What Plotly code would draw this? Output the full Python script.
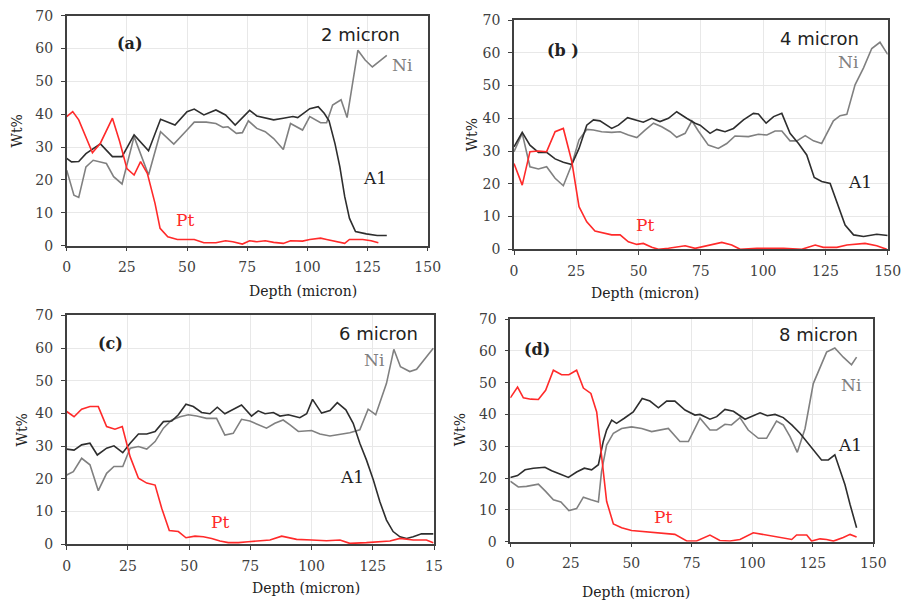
import plotly.graph_objects as go

# ---------------- data ----------------
# Panel (a) 2 micron
a_al_x = [0, 2, 5, 8, 14, 19, 23, 28, 34, 39, 45, 50, 53, 57, 62, 66, 70, 76, 79, 86, 90, 94, 96, 101, 104.5, 107, 109, 111.5, 113.5, 115.5, 117.5, 120, 124.5, 129, 133]
a_al_y = [26.6, 25.5, 25.6, 28, 31, 27.1, 27.1, 33.7, 28.9, 38.5, 36.7, 40.8, 41.6, 39.8, 41.3, 39.8, 36.7, 41.2, 39.5, 38.3, 38.8, 39.3, 39, 41.7, 42.3, 40.3, 38, 31, 24, 15, 8.3, 4.3, 3.6, 3.1, 3.1]
a_ni_x = [0, 3, 5, 8, 11, 16.5, 19.5, 23, 28, 34, 39, 44.5, 50, 53, 58, 62, 65, 67, 70.5, 73, 75.5, 79, 82.5, 86, 90, 93, 98, 101, 105.5, 108, 110.5, 114, 116.5, 118.5, 121, 124, 127, 133]
a_ni_y = [23, 15.4, 14.7, 24, 26, 25, 21, 18.8, 33.2, 21.5, 34.7, 30.9, 35.2, 37.6, 37.6, 37.2, 36, 36.2, 34.2, 34.4, 38, 35.7, 34.7, 32.6, 29.3, 37.2, 35.2, 39.3, 37.4, 37.4, 42.8, 44.4, 39, 48.3, 59.5, 56.5, 54.4, 57.9]
a_pt_x = [0, 2.5, 5, 7.5, 10.7, 14, 16.5, 19, 22, 25, 28, 30.7, 33.5, 36.7, 38.8, 42, 46, 53, 57, 62, 66, 69, 73, 76, 79, 82.5, 86, 90, 93, 98, 101, 105.5, 108, 112, 115.5, 117.5, 123, 126.5, 129.5]
a_pt_y = [39.3, 40.8, 38.3, 33.7, 28.3, 31.2, 35.2, 38.8, 31.7, 23.5, 21.5, 25.6, 22, 12.9, 5.3, 2.7, 1.9, 1.9, 0.9, 0.9, 1.5, 1.2, 0.5, 1.5, 1.2, 1.5, 1, 0.7, 1.5, 1.4, 1.9, 2.3, 1.9, 1.2, 0.7, 1.9, 1.9, 1.5, 0.9]

# Panel (b) 4 micron
b_al_x = [0, 3.3, 6.4, 9.8, 13.1, 16.5, 19.8, 23.2, 26.1, 29.2, 31.9, 34.5, 39.2, 41.9, 45.6, 49.3, 51.9, 55.3, 58.6, 62, 65.3, 69.3, 72.7, 74.7, 78.7, 81.4, 84.7, 88.1, 92.1, 96.1, 98.1, 101.2, 104.2, 107.5, 110.8, 114.2, 117.5, 120.5, 123.5, 126.9, 129.6, 132.9, 136.3, 140.3, 145.6, 150]
b_al_y = [31.3, 35.7, 31.8, 29.6, 29.6, 27.6, 26.6, 25.9, 30.8, 37.9, 39.5, 39.2, 36.9, 37.9, 40.2, 39.5, 38.8, 40, 39, 40, 42, 40, 38.5, 37.9, 35.4, 36.6, 35.9, 36.9, 39.5, 41.5, 41.3, 38.5, 40.5, 41.5, 35.4, 32.3, 28.8, 21.9, 20.7, 20.1, 14.5, 7.4, 4.4, 3.9, 4.6, 4.2]
b_ni_x = [0, 3.3, 6.4, 9.8, 13.1, 16.5, 19.8, 23.2, 26.1, 29.2, 31.9, 35.2, 39.2, 42.6, 45.9, 49.3, 52.6, 56, 59.3, 62.7, 65.3, 68.7, 71.4, 74, 78, 82, 85.4, 88.7, 94.1, 98.1, 101.5, 104.8, 107.5, 110.8, 113.5, 116.9, 120.2, 123.5, 128.2, 130.9, 133.6, 136.9, 140.3, 143.6, 146.9, 150]
b_ni_y = [29.8, 35.4, 25.2, 24.5, 25.2, 21.7, 19.4, 25.9, 33.4, 36.6, 36.4, 35.9, 35.7, 35.9, 34.9, 34.1, 36.4, 38.5, 37.4, 35.9, 34.2, 35.4, 39.2, 36.1, 31.8, 30.8, 32.3, 34.6, 34.4, 35.1, 34.9, 36.1, 36.1, 33.1, 33.1, 34.7, 33.1, 32.3, 39.2, 40.8, 41.2, 50.2, 55.4, 61.3, 63.2, 59.5]
b_pt_x = [0, 3.3, 6.4, 9.8, 13.1, 16.5, 19.8, 23.2, 26.1, 29.2, 32.5, 35.9, 39.2, 42.6, 45.9, 49.3, 51.9, 55.3, 58, 62, 65.3, 68.7, 72.7, 78.7, 83.4, 87.4, 90.8, 97.5, 108.2, 115.5, 120.9, 124.2, 129.6, 133.6, 140.9, 145.6, 149.6]
b_pt_y = [26.2, 19.6, 29.8, 30, 29.8, 35.9, 36.9, 26.8, 13, 8.4, 5.6, 4.9, 4.4, 4.4, 2.3, 1.5, 1.8, 0.6, 0, 0.3, 0.6, 1.1, 0.3, 1.3, 2.1, 1.3, 0, 0.3, 0.3, 0, 1.3, 0.6, 0.6, 1.3, 1.8, 1.1, 0]

# Panel (c) 6 micron
c_al_x = [0, 3, 6.1, 9.5, 12.5, 16.3, 19.3, 22.9, 25.9, 29.3, 32.7, 36.1, 39.5, 42.9, 45.6, 48.7, 51.7, 55.1, 58.5, 61.5, 64.6, 68, 71.4, 75.5, 78.2, 81, 84.4, 87.1, 90.5, 92.5, 95.2, 98, 100.4, 104.1, 107.5, 110.5, 114, 117, 119.7, 122.4, 125.2, 127.9, 130.6, 133.3, 136.1, 138.8, 141.5, 144.9, 149.7]
c_al_y = [29.1, 28.8, 30.4, 30.9, 27.3, 29.4, 30.1, 28, 30.9, 33.7, 33.7, 34.5, 37.5, 37.7, 39.6, 42.8, 42.1, 40.3, 39.9, 41.9, 39.9, 41.3, 42.6, 39.2, 40.8, 39.9, 40.3, 39.2, 39.6, 39.2, 38.7, 39.9, 44.3, 40.1, 40.9, 43.3, 41.1, 37, 30.9, 25.8, 19.7, 13, 7.4, 3.9, 2.3, 1.8, 2.3, 3.2, 3.2]
c_ni_x = [0, 2.7, 6.1, 9.5, 12.9, 16.3, 19.3, 22.9, 25.9, 29.3, 32.7, 36.1, 39.5, 42.9, 46.3, 49.7, 53.1, 57.1, 61.2, 64.6, 68, 71.4, 74.8, 78.2, 81.6, 85, 88.4, 91.2, 94.6, 100, 103.4, 107.5, 111.6, 115.6, 119.7, 123.1, 126.2, 130.6, 133.6, 136.3, 140.1, 142.9, 149.7]
c_ni_y = [21.2, 22.2, 26.3, 24.3, 16.4, 21.7, 23.8, 23.8, 29.4, 29.9, 29.1, 31.4, 35.5, 38, 39, 39.6, 39.2, 38.5, 38.5, 33.4, 33.9, 38.2, 37.7, 36.5, 35.5, 37, 38, 36.5, 34.5, 34.8, 33.7, 33.1, 33.7, 34.1, 35, 41.3, 39.6, 49.2, 59.6, 54.3, 52.8, 53.5, 59.9]
c_pt_x = [0, 3, 6.1, 9.5, 12.9, 16.3, 19.7, 22.7, 25.9, 29.3, 32.7, 36.1, 38.8, 41.9, 45.6, 48.7, 52.4, 55.8, 59.2, 62.6, 66, 70.1, 74.1, 78.9, 83, 87.8, 93.9, 100, 106.1, 111.6, 115.6, 122.4, 132, 136.1, 141.5, 146.9, 149.7]
c_pt_y = [40.6, 39, 41.3, 42.1, 42.1, 36, 35.2, 36, 26.8, 20.2, 18.7, 18.1, 11, 4.2, 3.9, 2, 2.5, 2.3, 1.8, 1, 0.5, 0.5, 0.8, 1.1, 1.3, 2.5, 1.5, 1.3, 1.1, 1.3, 0.3, 0.5, 1, 1.8, 1.3, 1.3, 0.5]

# Panel (d) 8 micron
d_al_x = [0, 3, 6.1, 9.5, 14.3, 17.1, 20.5, 24, 27.4, 30.6, 33.6, 36.4, 38.4, 39.8, 41.9, 43.9, 47.1, 50.8, 54.5, 57.7, 61.2, 64.6, 68, 72.2, 76.3, 78.4, 82.5, 85.3, 88.7, 92.2, 97, 99.7, 103.2, 106.2, 109.4, 112.8, 116.3, 119.7, 123.1, 125.9, 128.6, 131.4, 134.1, 136.2, 138.3, 140.4, 143.1]
d_al_y = [20.2, 20.8, 22.6, 23.1, 23.4, 22.3, 21.3, 20.2, 21.9, 23.1, 22.6, 24.2, 31.5, 35.1, 38.2, 37.2, 38.8, 40.8, 45, 44.2, 42.1, 44.2, 44.2, 41.4, 39.8, 40, 38.5, 39.3, 41.6, 41, 38.5, 39.3, 40.5, 39.6, 40, 39, 36.7, 34.1, 30.9, 28.1, 25.7, 25.7, 27.3, 22.6, 17.9, 11.7, 4.4]
d_ni_x = [0, 3.3, 6.7, 11.6, 14.6, 17.8, 20.9, 24.2, 27.4, 30.2, 33.3, 36.4, 37.7, 39.8, 42.6, 46, 50.1, 54.3, 58.4, 62.5, 65.3, 70.1, 73.6, 78.4, 82.5, 85.3, 88.7, 91.4, 94.9, 98.3, 102.5, 105.9, 110, 112.8, 115.6, 118.6, 121.8, 125.2, 128, 130.7, 134.1, 137.6, 141, 143.1]
d_ni_y = [19, 17.2, 17.4, 18.1, 15.8, 13.2, 12.5, 9.8, 10.4, 14, 13.2, 12.5, 22, 30.4, 34.1, 35.6, 36.1, 35.6, 34.6, 35.1, 35.6, 31.5, 31.5, 38.8, 35.1, 35.1, 36.9, 36.7, 39, 35.1, 32.5, 32.5, 37.9, 36.7, 33, 28.1, 35.6, 49.7, 54.9, 59.6, 60.9, 58, 55.6, 58]
d_pt_x = [0, 3, 5.4, 8.5, 11.6, 14.6, 17.8, 21.2, 24.2, 27.4, 30.2, 33.3, 35.7, 37, 38.4, 39.8, 42.6, 46, 50.1, 55.6, 60.5, 65.3, 68, 72.9, 77, 82.5, 86.6, 90.8, 94.9, 100.4, 105.9, 111.4, 116.3, 118.3, 122.5, 124.5, 128, 130.7, 133.5, 137.6, 140.4, 143.1]
d_pt_y = [45.2, 48.6, 45.2, 44.8, 44.7, 47.6, 53.9, 52.5, 52.5, 53.9, 48.3, 46.6, 40.8, 32, 21, 12.7, 5.6, 4.4, 3.5, 3.1, 2.8, 2.6, 2.3, 0.2, 0.2, 2.1, 0.4, 0.2, 0.7, 2.8, 2.1, 1.5, 0.7, 2.1, 2.1, 0.2, 0.9, 0.7, 0.2, 1.3, 2.3, 1.5]

x_tickvals = [0, 25, 50, 75, 100, 125, 150]
x_ticktext = ["0", "25", "50", "75", "100", "125", "150"]
x_ticktext_c = ["0", "25", "50", "75", "100", "125", "15"]
y_tickvals = [0, 10, 20, 30, 40, 50, 60, 70]

panel_labels = ["(a)", "(b )", "(c)", "(d)"]
thickness_labels = ["2 micron", "4 micron", "6 micron", "8 micron"]

# ---------------- layout geometry ----------------
W, H = 903, 601
# (left, right, top, bottom) of each plot area in page pixels
boxes = [
    (66.7, 427.7, 15.7, 245.7),
    (514.0, 887.7, 20.0, 249.3),
    (66.7, 434.0, 315.3, 544.3),
    (510.3, 873.3, 319.0, 541.7),
]


def fx(px):
    return px / W


def fy(py):
    return 1 - py / H


AL_C = "#2e2e2e"
NI_C = "#808080"
PT_C = "#ff2a2a"
SERIF = "DejaVu Serif"
SANS = "DejaVu Sans"

panels = [
    (a_al_x, a_al_y, a_ni_x, a_ni_y, a_pt_x, a_pt_y),
    (b_al_x, b_al_y, b_ni_x, b_ni_y, b_pt_x, b_pt_y),
    (c_al_x, c_al_y, c_ni_x, c_ni_y, c_pt_x, c_pt_y),
    (d_al_x, d_al_y, d_ni_x, d_ni_y, d_pt_x, d_pt_y),
]

# label positions in data coordinates
lab_pos = [(26.3, 61.4), (19.8, 60.8), (17.7, 61.4), (11.2, 60.3)]
thk_pos = [(122, 64.4), (122.8, 64.4), (127.2, 64.5), (127.3, 65.0)]
ni_pos = [(139.7, 55.0), (134.2, 57.3), (125.9, 56.3), (141.0, 49.3)]
al_pos = [(128.0, 20.6), (138.9, 20.6), (116.4, 20.7), (140.4, 30.4)]
pt_pos = [(49.2, 7.8), (52.6, 7.4), (62.6, 6.9), (63.2, 7.9)]
xtitle_gap = [45, 44, 44, 50]
ytitle_x = [16.7, 471.7, 21.7, 460.0]

fig = go.Figure()
layout = dict(
    width=W, height=H,
    margin=dict(l=0, r=0, t=0, b=0, autoexpand=False),
    paper_bgcolor="white", plot_bgcolor="white",
    showlegend=False,
)
annotations = []

for i, (box, data) in enumerate(zip(boxes, panels)):
    n = i + 1
    xa = "x" if n == 1 else f"x{n}"
    ya = "y" if n == 1 else f"y{n}"
    l, r, t, b = box
    for (xs, ys, col) in [(data[2], data[3], NI_C), (data[0], data[1], AL_C), (data[4], data[5], PT_C)]:
        fig.add_trace(go.Scatter(x=xs, y=ys, mode="lines", line=dict(color=col, width=1.6),
                                 xaxis=xa, yaxis=ya, hoverinfo="skip"))
    axis_common = dict(
        showline=True, mirror=True, linecolor="#404040", linewidth=1.5,
        showgrid=True, gridcolor="#e8e8e8", gridwidth=1,
        ticks="outside", ticklen=4, tickcolor="#404040",
        zeroline=False, automargin=False, ticklabeloverflow="allow",
        tickfont=dict(family=SERIF, size=14, color="#404040"),
    )
    layout["xaxis" if n == 1 else f"xaxis{n}"] = dict(
        axis_common, domain=[fx(l), fx(r)], anchor=ya, range=[0, 150],
        tickvals=x_tickvals, ticktext=(x_ticktext_c if n == 3 else x_ticktext),
        ticklabelstandoff=4,
    )
    layout["yaxis" if n == 1 else f"yaxis{n}"] = dict(
        axis_common, domain=[fy(b), fy(t)], anchor=xa, range=[0, 70],
        tickvals=y_tickvals, ticklabelstandoff=5,
    )
    # in-plot texts
    annotations.append(dict(x=lab_pos[i][0], y=lab_pos[i][1], xref=xa, yref=ya, text="<b>" + panel_labels[i] + "</b>",
                            showarrow=False, font=dict(family=SERIF, size=16, color="#222")))
    annotations.append(dict(x=thk_pos[i][0], y=thk_pos[i][1], xref=xa, yref=ya, text=thickness_labels[i],
                            showarrow=False, font=dict(family=SANS, size=18, color="#222")))
    annotations.append(dict(x=ni_pos[i][0], y=ni_pos[i][1], xref=xa, yref=ya, text="Ni",
                            showarrow=False, font=dict(family=SERIF, size=17, color="#808080")))
    annotations.append(dict(x=al_pos[i][0], y=al_pos[i][1], xref=xa, yref=ya, text="A1",
                            showarrow=False, font=dict(family=SERIF, size=17, color="#222")))
    annotations.append(dict(x=pt_pos[i][0], y=pt_pos[i][1], xref=xa, yref=ya, text="Pt",
                            showarrow=False, font=dict(family=SERIF, size=17, color=PT_C)))
    # axis titles
    annotations.append(dict(x=fx((l + r) / 2), y=fy(b + xtitle_gap[i]), xref="paper", yref="paper",
                            yanchor="middle", text="Depth (micron)", showarrow=False,
                            font=dict(family=SERIF, size=14, color="#222")))
    annotations.append(dict(x=fx(ytitle_x[i]), y=fy((t + b) / 2), xref="paper", yref="paper",
                            xanchor="center", yanchor="middle",
                            text="Wt%", textangle=-90, showarrow=False,
                            font=dict(family=SERIF, size=14, color="#222")))

layout["annotations"] = annotations
fig.update_layout(**layout)
# remove the default 8px page margin so the figure fills the window exactly
fig.write_html("out.html", config={"displayModeBar": False},
               post_script="document.body.style.margin='0';document.body.style.overflow='hidden';")
